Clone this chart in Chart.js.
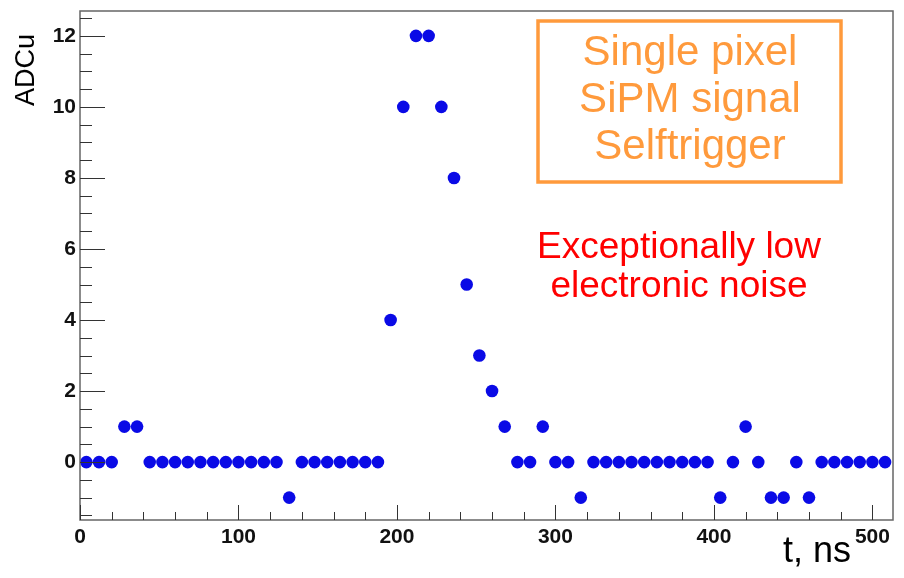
<!DOCTYPE html>
<html lang="en">
<head>
    <style>
        body {
            margin: 0;
            background-color: #fff;
        }

        #chartBox {
            width: 904px;
            height: 578px;
        }
    </style>
</head>
<body>

<div id="chartBox">
    <canvas id="adcChart"></canvas>
</div>

<script src="https://cdn.jsdelivr.net/npm/chart.js"></script>
<script>
    // Sample times (ns) and ADC counts
    const times = [4, 12, 20, 28, 36, 44, 52, 60, 68, 76, 84, 92, 100, 108, 116, 124,
                   132, 140, 148, 156, 164, 172, 180, 188, 196, 204, 212, 220, 228, 236, 244, 252,
                   260, 268, 276, 284, 292, 300, 308, 316, 324, 332, 340, 348, 356, 364, 372, 380,
                   388, 396, 404, 412, 420, 428, 436, 444, 452, 460, 468, 476, 484, 492, 500, 508];
    const adc = [0, 0, 0, 1, 1, 0, 0, 0, 0, 0, 0, 0, 0, 0, 0, 0,
                 -1, 0, 0, 0, 0, 0, 0, 0, 4, 10, 12, 12, 10, 8, 5, 3,
                 2, 1, 0, 0, 1, 0, 0, -1, 0, 0, 0, 0, 0, 0, 0, 0,
                 0, 0, -1, 0, 1, 0, -1, -1, 0, -1, 0, 0, 0, 0, 0, 0];

    const xTicks = [0, 100, 200, 300, 400, 500];
    const yTicks = [0, 2, 4, 6, 8, 10, 12];
    const boxLines = ['Single pixel', 'SiPM signal', 'Selftrigger'];
    const noteLines = ['Exceptionally low', 'electronic noise'];

    const fontFam = 'Arial, "Liberation Sans", sans-serif';

    // ROOT-style frame, inward ticks, titles and the two text notes
    const rootFrame = {
        id: 'rootFrame',
        afterDatasetsDraw(chart) {
            const ctx = chart.ctx;
            const area = chart.chartArea;
            const xs = chart.scales.x;
            const ys = chart.scales.y;
            ctx.save();

            ctx.strokeStyle = '#666';
            ctx.lineWidth = 1.5;
            ctx.strokeRect(area.left, area.top, area.right - area.left, area.bottom - area.top);

            // y ticks every 0.5, long ones on labelled values
            ctx.strokeStyle = '#333';
            ctx.lineWidth = 1;
            ctx.beginPath();
            for (let v = -1.5; v <= ys.max; v += 0.5) {
                const py = Math.round(ys.getPixelForValue(v)) + 0.5;
                const len = yTicks.includes(v) ? 25 : 12;
                ctx.moveTo(area.left, py);
                ctx.lineTo(area.left + len, py);
            }
            // x ticks every 20, long ones every 100
            for (let v = 0; v <= xs.max; v += 20) {
                const px = Math.round(xs.getPixelForValue(v)) + 0.5;
                const len = xTicks.includes(v) ? 15 : 8;
                ctx.moveTo(px, area.bottom);
                ctx.lineTo(px, area.bottom - len);
            }
            ctx.stroke();

            // axis titles
            ctx.fillStyle = '#000';
            ctx.font = '36px ' + fontFam;
            ctx.textAlign = 'right';
            ctx.textBaseline = 'alphabetic';
            ctx.fillText('t, ns', 851, 562);
            ctx.save();
            ctx.translate(34, 70);
            ctx.rotate(-Math.PI / 2);
            ctx.textAlign = 'center';
            ctx.font = '27px ' + fontFam;
            ctx.fillText('ADCu', 0, 0);
            ctx.restore();

            // orange box
            ctx.strokeStyle = '#ff9a3c';
            ctx.lineWidth = 3.5;
            ctx.strokeRect(538, 21, 303, 161);
            ctx.fillStyle = '#ff9a3c';
            ctx.font = '42px ' + fontFam;
            ctx.textAlign = 'center';
            boxLines.forEach((t, i) => ctx.fillText(t, 690, 65 + i * 47));

            // red note
            ctx.fillStyle = '#ff0000';
            ctx.font = '37px ' + fontFam;
            noteLines.forEach((t, i) => ctx.fillText(t, 679, 258 + i * 39));

            ctx.restore();
        }
    };

    function buildChart() {
        const ctx = document.getElementById('adcChart').getContext('2d');
        const points = times.map((t, i) => ({ x: t, y: adc[i] }));

        new Chart(ctx, {
            type: 'scatter',
            data: {
                datasets: [
                    {
                        label: 'ADC',
                        data: points,
                        backgroundColor: '#0a0ae6',
                        borderColor: '#0a0ae6',
                        borderWidth: 0,
                        pointRadius: 6.3,
                        pointHoverRadius: 6.3
                    }
                ]
            },
            options: {
                responsive: false,
                animation: false,
                devicePixelRatio: 1,
                layout: {
                    padding: { top: 11, right: 11, left: 0, bottom: 0 }
                },
                plugins: {
                    legend: { display: false },
                    tooltip: { enabled: false }
                },
                scales: {
                    x: {
                        type: 'linear',
                        min: 0,
                        max: 513,
                        grid: { display: false, drawTicks: false },
                        border: { display: false },
                        afterBuildTicks: scale => { scale.ticks = xTicks.map(v => ({ value: v })); },
                        afterFit: scale => {
                            scale.height = 58;
                            scale.paddingLeft = 0;
                            scale.paddingRight = 0;
                        },
                        ticks: {
                            font: { family: fontFam, size: 21, weight: 'bold' },
                            color: '#111',
                            padding: 5,
                            maxRotation: 0
                        }
                    },
                    y: {
                        min: -1.63,
                        max: 12.7,
                        grid: { display: false, drawTicks: false },
                        border: { display: false },
                        afterBuildTicks: scale => { scale.ticks = yTicks.map(v => ({ value: v })); },
                        afterFit: scale => {
                            scale.width = 80;
                            scale.paddingTop = 0;
                            scale.paddingBottom = 0;
                        },
                        ticks: {
                            font: { family: fontFam, size: 21, weight: 'bold' },
                            color: '#111',
                            padding: 4
                        }
                    }
                }
            },
            plugins: [rootFrame]
        });
    }

    const canvas = document.getElementById('adcChart');
    canvas.width = 904;
    canvas.height = 578;
    buildChart();
</script>

</body>
</html>
